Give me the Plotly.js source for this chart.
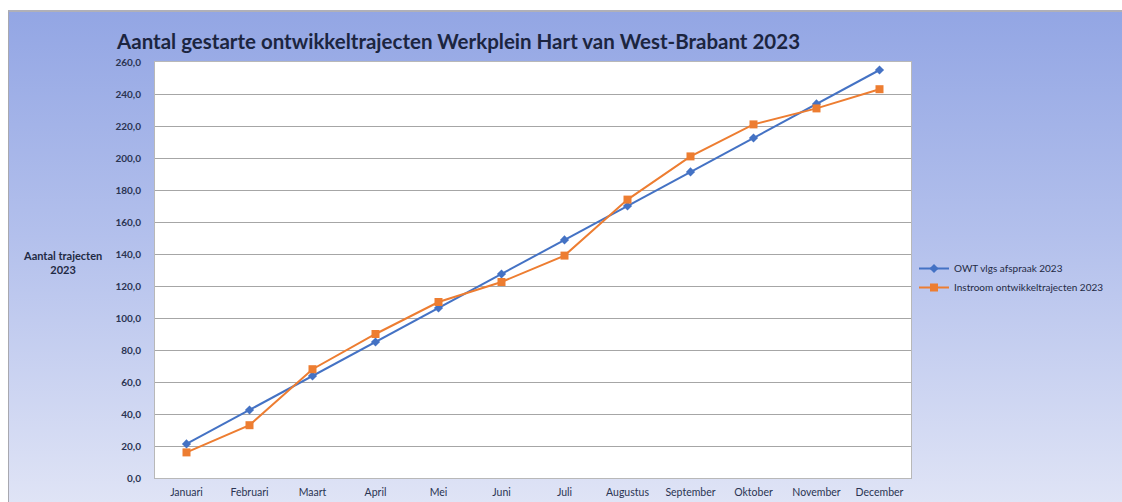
<!DOCTYPE html>
<html>
<head>
<meta charset="utf-8">
<script src="https://cdn.plot.ly/plotly-3.0.1.min.js"></script>
<style>
  html, body { margin: 0; padding: 0; background: #ffffff; }
  #wrap { position: relative; width: 1122px; height: 502px; overflow: hidden; background: #ffffff; }
  #bg { position: absolute; left: 8px; top: 10px; width: 1120px; height: 500px;
        background: linear-gradient(to bottom, #93a6e4 0%, #b3c0ec 45%, #e1e5f6 100%);
        border-left: 1px solid #a8a8b0; border-top: 2px solid #b0b0b8; }
  #chart { position: absolute; left: 0; top: 0; width: 1122px; height: 502px; }
</style>
</head>
<body>
<div id="wrap">
  <div id="bg"></div>
  <div id="chart"></div>
</div>
<script>
const months = ["Januari", "Februari", "Maart", "April", "Mei", "Juni", "Juli",
                "Augustus", "September", "Oktober", "November", "December"];
const owtAfspraak = [21.3, 42.5, 63.8, 85.0, 106.3, 127.5, 148.8, 170.0, 191.3, 212.5, 233.8, 255.0];
const instroom = [16, 33, 68, 90, 110, 122.5, 139, 174, 201, 221, 231, 243];
const seriesNames = ["OWT vlgs afspraak 2023", "Instroom ontwikkeltrajecten 2023"];
const chartTitle = "Aantal gestarte ontwikkeltrajecten Werkplein Hart van West-Brabant 2023";
const yTitle = "Aantal trajecten<br>2023";

const FONT = "Lato, 'Open Sans', 'Liberation Sans', sans-serif";

const traces = [
  {
    x: months, y: owtAfspraak, name: seriesNames[0], type: "scatter", mode: "lines+markers",
    line: { color: "#4472C4", width: 2 },
    marker: { symbol: "diamond", size: 7, color: "#4472C4" }
  },
  {
    x: months, y: instroom, name: seriesNames[1], type: "scatter", mode: "lines+markers",
    line: { color: "#ED7D31", width: 2 },
    marker: { symbol: "square", size: 8, color: "#ED7D31" }
  }
];

const layout = {
  width: 1122, height: 502,
  margin: { l: 155, r: 211, t: 62, b: 24, pad: 0 },
  paper_bgcolor: "rgba(0,0,0,0)",
  plot_bgcolor: "#ffffff",
  separators: ",.",
  font: { family: FONT, color: "#1f2a44", size: 10 },
  title: {
    text: "<b>" + chartTitle + "</b>",
    font: { family: FONT, size: 20.5, color: "#1c2540" },
    x: 117 / 1122, xanchor: "left", xref: "container",
    y: 1 - 42 / 502, yanchor: "middle", yref: "container"
  },
  xaxis: {
    type: "category",
    range: [-0.5, 11.5],
    showgrid: false,
    zeroline: false,
    showline: true, linecolor: "#b8b8b8", linewidth: 1, mirror: true,
    ticks: "", ticklen: 0,
    ticklabelstandoff: 4,
    tickfont: { family: FONT, size: 10.5, color: "#2a3452" },
    fixedrange: true
  },
  yaxis: {
    range: [0, 260],
    tick0: 0, dtick: 20,
    tickformat: ".1f",
    showgrid: true, gridcolor: "#a6a6a6", gridwidth: 1,
    zeroline: false,
    showline: true, linecolor: "#b8b8b8", linewidth: 1, mirror: true,
    ticks: "",
    tickfont: { family: FONT, size: 10, color: "#2a3452", weight: "bold" },
    ticklabelstandoff: 11,
    fixedrange: true
  },
  legend: {
    x: (914 - 155) / 756, xanchor: "left",
    y: (478 - 254) / 416, yanchor: "top",
    bgcolor: "rgba(0,0,0,0)",
    font: { family: FONT, size: 10, color: "#1f2a44" },
    itemwidth: 30,
    tracegroupgap: 0
  },
  annotations: [
    {
      text: "<b>" + yTitle + "</b>",
      xref: "paper", yref: "paper",
      x: (62 - 155) / 756, y: (478 - 262) / 416,
      xanchor: "center", yanchor: "middle",
      showarrow: false, align: "center",
      font: { family: FONT, size: 11, color: "#1f2a44" }
    }
  ],
  showlegend: true
};

Plotly.newPlot("chart", traces, layout, { displayModeBar: false, staticPlot: true });
</script>
</body>
</html>
